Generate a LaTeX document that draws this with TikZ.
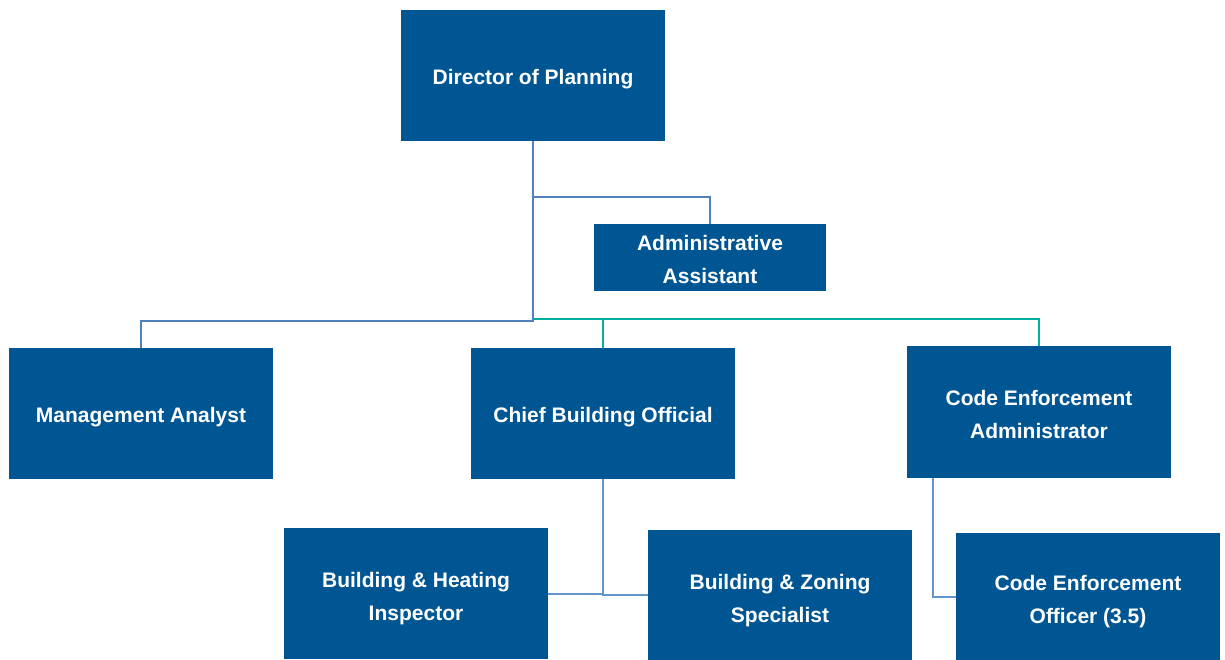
\documentclass[tikz,border=0pt]{standalone}
\usepackage{fontspec}
\setmainfont{Liberation Sans}
\definecolor{boxblue}{RGB}{0,85,147}
\definecolor{lineblue}{RGB}{79,129,189}
\definecolor{lineteal}{RGB}{0,176,160}
\definecolor{linelight}{RGB}{97,149,204}
\begin{document}
\begin{tikzpicture}[x=1pt,y=-1pt,
  orgbox/.style={draw=none,fill=boxblue,inner sep=0pt,
    minimum width=264pt,minimum height=131pt},
  orgtext/.style={text=white,inner sep=0pt,align=center,
    font=\fontsize{21}{33}\selectfont\bfseries},
  conn/.style={draw=lineblue,line width=2pt},
  tconn/.style={draw=lineteal,line width=2pt},
  lconn/.style={draw=linelight,line width=2pt}]
\useasboundingbox (0,0) rectangle (1225,660);
\node[orgbox] (dir) at (533,75.5) {};
\node[orgbox,minimum width=232pt,minimum height=67pt] (adm) at (710,257.5) {};
\node[orgbox] (ma) at (141,413.5) {};
\node[orgbox] (cbo) at (603,413.5) {};
\node[orgbox,minimum height=132pt] (cea) at (1039,412) {};
\node[orgbox] (bhi) at (416,593.5) {};
\node[orgbox,minimum height=130pt] (bzs) at (780,595) {};
\node[orgbox,minimum height=127pt] (ceo) at (1088,596.5) {};
\node[orgtext] (tdir) at ([yshift=-3.5pt]dir.center) {Director of Planning};
\node[orgtext] (tadm) at ([yshift=-2pt]adm.center) {Administrative\\Assistant};
\node[orgtext] (tma) at ([yshift=-3.5pt]ma.center) {Management Analyst};
\node[orgtext] (tcbo) at ([yshift=-3.5pt]cbo.center) {Chief Building Official};
\node[orgtext] (tcea) at ([yshift=-2.5pt]cea.center) {Code Enforcement\\Administrator};
\node[orgtext] (tbhi) at ([yshift=-5pt]bhi.center) {Building \& Heating\\Inspector};
\node[orgtext] (tbzs) at ([yshift=-5.5pt]bzs.center) {Building \& Zoning\\Specialist};
\node[orgtext] (tceo) at ([yshift=-5pt]ceo.center) {Code Enforcement\\Officer (3.5)};
\coordinate (ja) at (533,197);
\coordinate (jm) at (533,321);
\coordinate (jt) at (533,319);
\draw[tconn] (jt) -| (cea.north);
\draw[tconn] (cbo.north) |- (jt);
\draw[conn] (dir.south) -- (jm) -| (ma.north);
\draw[conn] (ja) -| (adm.north);
\draw[lconn] (cbo.south) |- (bhi.east);
\draw[lconn] (cbo.south) |- (bzs.west);
\draw[lconn] ([xshift=-106pt]cea.south) |- (ceo.west);
\end{tikzpicture}
\end{document}
